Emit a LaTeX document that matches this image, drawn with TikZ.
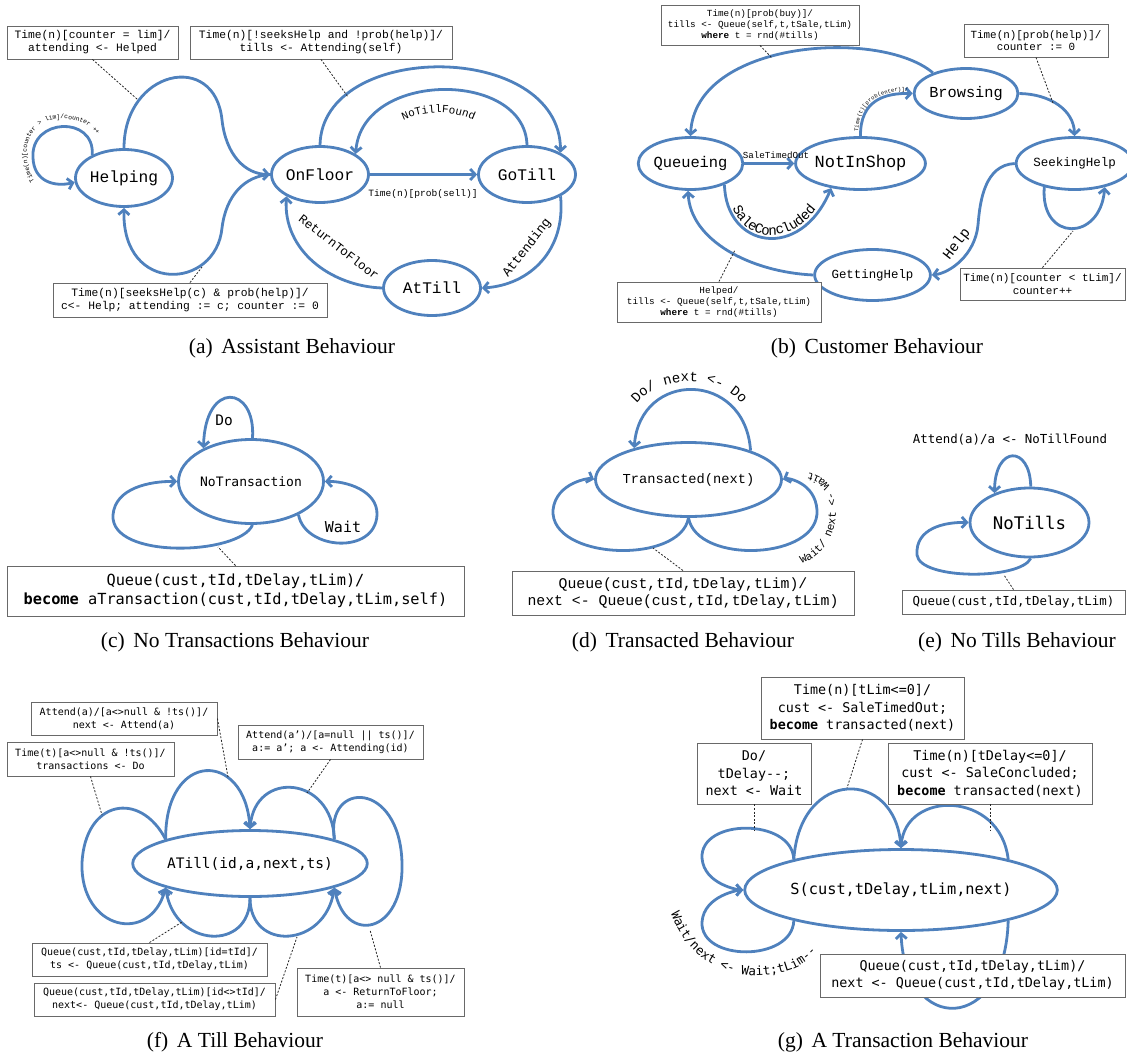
\documentclass[tikz,border=0pt]{standalone}
\usepackage{fontspec}
\setmainfont{Liberation Serif}
\newfontfamily\cour{Liberation Mono}
\newfontfamily\cons{DejaVu Sans Mono}
\usetikzlibrary{shapes.geometric,arrows.meta,decorations.text}
\definecolor{lblue}{RGB}{79,129,189}
\definecolor{bgray}{RGB}{105,105,105}
\newcommand\myfs[2]{\fontsize{#1}{#2}\selectfont}
\begin{document}
\begin{tikzpicture}[x=1pt,y=-1pt,
  st/.style={ellipse, draw=lblue, line width=2.8pt, inner sep=0pt, fill=white},
  tr/.style={draw=lblue, line width=2.8pt, -{Straight Barb[length=5pt,width=11pt]}},
  ln/.style={draw=lblue, line width=2.8pt},
  note/.style={draw=bgray, line width=0.9pt, fill=white, align=center, inner sep=0pt, text=black},
  dsh/.style={draw=black!85, line width=0.8pt, dash pattern=on 2pt off 1.6pt},
  captxt/.style={font=\myfs{21.5}{25}}]
\useasboundingbox (0,0) rectangle (1127,1055);

%%%%%%%%%%%%%%%% (a)
\node[st, minimum width=97pt, minimum height=57pt, font=\cour\myfs{16.2}{19}] (helping) at (124,178) {Helping};
\node[st, minimum width=97pt, minimum height=56pt, font=\cour\myfs{16.2}{19}] (onfloor) at (320,174.5) {OnFloor};
\node[st, minimum width=97pt, minimum height=56pt, font=\cour\myfs{16.2}{19}] (gotill) at (527,174.5) {GoTill};
\node[st, minimum width=97pt, minimum height=55pt, font=\cour\myfs{16.2}{19}] (attill) at (432,288) {AtTill};

\draw[tr] (helping.144) .. controls (95,115) and (30,118) .. (33,158) .. controls (34,182) and (55,187) .. (helping.185);
\path[decorate, decoration={text along path, text align=center, text={|\cour\myfs{6.3}{7}|Time(n)[counter > lim]/counter ++}}] (44,192) .. controls (18,170) and (20,122) .. (58,119) .. controls (85,117) and (100,133) .. (103,148);
\draw[tr] (helping.90) .. controls (124,70) and (215,50) .. (222,120) .. controls (226,155) and (245,174) .. (onfloor.180);
\draw[tr] (onfloor.180) .. controls (245,176) and (226,195) .. (222,228) .. controls (216,290) and (122,295) .. (helping.270);
\draw[tr] (onfloor.east) -- (gotill.west);
\node[font=\cour\myfs{9.6}{11}] (lsell) at (423,194) {Time(n)[prob(sell)]};
\draw[tr] (onfloor.90) .. controls (322,40) and (560,40) .. (gotill.33);
\draw[tr] (gotill.90) .. controls (525,70) and (362,70) .. (onfloor.30);
\path[decorate, decoration={text along path, text align=center, text={|\cour\myfs{11}{13}|NoTillFound}}] (385,132) .. controls (415,106) and (462,106) .. (492,132);
\draw[tr] (gotill.-33) .. controls (566,250) and (530,285) .. (attill.east);
\node[font=\cour\myfs{13}{15}, rotate=52] (latt) at (527,248) {Attending};
\draw[tr] (attill.west) .. controls (330,286) and (283,250) .. (onfloor.213);
\node[font=\cour\myfs{12.5}{15}, rotate=-38] (lret) at (339,247) {ReturnToFloor};

\node[note, minimum width=171pt, minimum height=33pt, font=\cour\myfs{11.3}{13}] (a1) at (92.5,42.5) {Time(n)[counter = lim]/\\attending <- Helped};
\node[note, minimum width=262pt, minimum height=33pt, font=\cour\myfs{11.3}{13}] (a2) at (321,42.5) {Time(n)[!seeksHelp and !prob(help)]/\\tills <- Attending(self)};
\node[note, minimum width=274pt, minimum height=34pt, font=\cour\myfs{11.3}{13}] (a3) at (190,300) {Time(n)[seeksHelp(c) \& prob(help)]/\\c<- Help; attending := c; counter := 0};
\coordinate (da1) at (137,99);
\coordinate (da2) at (348,97);
\coordinate (da3) at (202,267);
\draw[dsh] (a1.south) -- (da1);
\draw[dsh] (a2.south) -- (da2);
\draw[dsh] (a3.north) -- (da3);
\node[captxt] (capa) at (292,348) {(a)\hspace{0.4em}Assistant Behaviour};

%%%%%%%%%%%%%%%% (b)
\node[st, minimum width=94pt, minimum height=52pt, font=\cour\myfs{15.4}{18}] (queueing) at (690.5,163.5) {Queueing};
\node[st, minimum width=94pt, minimum height=52pt, font=\cour\myfs{17}{20}] (notinshop) at (860.5,163.5) {NotInShop};
\node[st, minimum width=95pt, minimum height=50pt, font=\cour\myfs{15.3}{18}] (browsing) at (966,93.5) {Browsing};
\node[st, minimum width=94pt, minimum height=52pt, font=\cour\myfs{12.5}{15}] (seeking) at (1074.5,163.5) {SeekingHelp};
\node[st, minimum width=92pt, minimum height=51pt, font=\cour\myfs{12.4}{15}] (getting) at (872.5,275) {GettingHelp};

\draw[tr] (browsing.148) .. controls (880,28) and (695,40) .. (queueing.90);
\draw[tr] (queueing.east) -- (notinshop.west);
\node[font=\cour\myfs{9.2}{11}] (lsto) at (776,155) {SaleTimedOut};
\draw[tr] (queueing.-32) .. controls (726,248) and (800,262) .. (notinshop.220);
\path[decorate, decoration={text along path, text align=center, raise=3pt, text={|\cour\myfs{14}{16}|SaleConcluded}}] (queueing.-32) .. controls (726,248) and (800,262) .. (notinshop.220);
\draw[tr] (notinshop.90) .. controls (860,100) and (885,93) .. (browsing.180);
\path[decorate, decoration={text along path, text align=center, raise=2.5pt, text={|\cour\myfs{5.5}{7}|Time(t)[prob(enter)]/}}] (notinshop.90) .. controls (860,100) and (885,93) .. (browsing.180);
\draw[tr] (browsing.0) .. controls (1050,94) and (1074,110) .. (seeking.90);
\draw[tr] (seeking.180) .. controls (985,165) and (980,200) .. (978,225) .. controls (975,255) and (950,273) .. (getting.0);
\node[font=\cour\myfs{14.5}{17}, rotate=52] (lhelp) at (957,244) {Help};
\draw[tr] (seeking.218) .. controls (1040,242) and (1100,242) .. (seeking.-38);
\draw[tr] (getting.180) .. controls (750,272) and (690,240) .. (queueing.265);

\node[note, minimum width=198pt, minimum height=40pt, font=\cour\myfs{9.3}{10.6}] (b1) at (760,25) {Time(n)[prob(buy)]/\\tills <- Queue(self,t,tSale,tLim)\\\textbf{where} t = rnd(\#tills)};
\node[note, minimum width=144pt, minimum height=33pt, font=\cour\myfs{10.9}{12.5}] (b2) at (1036,40.5) {Time(n)[prob(help)]/\\counter := 0};
\node[note, minimum width=204pt, minimum height=40pt, font=\cour\myfs{9.3}{10.6}] (b3) at (719,302) {Helped/\\tills <- Queue(self,t,tSale,tLim)\\\textbf{where} t = rnd(\#tills)};
\node[note, minimum width=165pt, minimum height=32pt, font=\cour\myfs{11}{12.5}] (b4) at (1042.5,284) {Time(n)[counter < tLim]/\\counter++};
\coordinate (db1) at (772,58);
\coordinate (db2) at (1053,103);
\coordinate (db3) at (735,250);
\coordinate (db4) at (1073,231);
\draw[dsh] (b1.south) -- (db1);
\draw[dsh] (b2.south) -- (db2);
\draw[dsh] (b3.north) -- (db3);
\draw[dsh] (b4.north) -- (db4);
\node[captxt] (capb) at (877,348) {(b)\hspace{0.4em}Customer Behaviour};

%%%%%%%%%%%%%%%% (c)
\node[st, minimum width=145pt, minimum height=84pt, font=\cons\myfs{13}{15}] (notrans) at (251,481.5) {NoTransaction};
\draw[tr] (notrans.88) .. controls (256,385) and (205,380) .. (notrans.145);
\node[font=\cons\myfs{14.5}{17}] (ldo) at (224,420) {Do};
\draw[tr] (notrans.272) .. controls (240,555) and (110,560) .. (113,515) .. controls (115,488) and (150,481) .. (notrans.180);
\draw[tr] (notrans.-35) .. controls (305,550) and (375,555) .. (377,515) .. controls (378,490) and (345,481) .. (notrans.0);
\node[font=\cons\myfs{15}{17}] (lwait) at (343,527) {Wait};
\node[note, minimum width=457pt, minimum height=50pt, font=\cons\myfs{15.3}{19}] (c1) at (235.5,591) {Queue(cust,tId,tDelay,tLim)/\\\textbf{become} aTransaction(cust,tId,tDelay,tLim,self)};
\coordinate (dc1) at (218,547);
\draw[dsh] (c1.north) -- (dc1);
\node[captxt] (capc) at (235,642) {(c)\hspace{0.4em}No Transactions Behaviour};

%%%%%%%%%%%%%%%% (d)
\node[st, minimum width=155pt, minimum height=74pt, font=\cour\myfs{13.7}{16}] (trans) at (688.5,479.5) {Transacted(next)};
\draw[tr] (trans.25) .. controls (745,370) and (640,370) .. (trans.150);
\path[decorate, decoration={text along path, text align=center, text={|\cour\myfs{14}{16}|Do/ next <- Do}}] (628,422) .. controls (640,368) and (740,368) .. (750,422);
\draw[tr] (trans.270) .. controls (680,565) and (550,560) .. (553,510) .. controls (556,482) and (590,478) .. (trans.180);
\draw[tr] (trans.270) .. controls (697,565) and (820,560) .. (817,510) .. controls (815,482) and (787,478) .. (trans.0);
\path[decorate, decoration={text along path, text align=center, text={|\cour\myfs{11}{13}|Wait/ next <- Wait}}] (786,568) .. controls (826,562) and (840,530) .. (835,500) .. controls (831,480) and (818,472) .. (792,471);
\node[note, minimum width=342pt, minimum height=44pt, font=\cour\myfs{14.8}{17}] (d1) at (683,593) {Queue(cust,tId,tDelay,tLim)/\\next <- Queue(cust,tId,tDelay,tLim)};
\coordinate (dd1) at (653,548);
\draw[dsh] (d1.north) -- (dd1);
\node[captxt] (capd) at (683,642) {(d)\hspace{0.4em}Transacted Behaviour};

%%%%%%%%%%%%%%%% (e)
\node[st, minimum width=119pt, minimum height=69pt, font=\cons\myfs{17.4}{20}] (notills) at (1029.5,522.5) {NoTills};
\draw[tr] (notills.88) .. controls (1030,445) and (995,445) .. (notills.140);
\node[font=\cons\myfs{12.4}{15}] (lattend) at (1010,440) {Attend(a)/a <- NoTillFound};
\draw[tr] (notills.272) .. controls (1020,580) and (920,580) .. (917,555) .. controls (915,528) and (945,522) .. (notills.180);
\node[note, minimum width=223pt, minimum height=24pt, font=\cons\myfs{12.4}{15}] (e1) at (1013.5,602) {Queue(cust,tId,tDelay,tLim)};
\coordinate (de1) at (1004,575);
\draw[dsh] (e1.north) -- (de1);
\node[captxt] (cape) at (1017,642) {(e)\hspace{0.4em}No Tills Behaviour};

%%%%%%%%%%%%%%%% (f)
\node[st, minimum width=225pt, minimum height=66pt, font=\cons\myfs{14.5}{17}] (atill) at (250,863.5) {ATill(id,a,next,ts)};
\draw[tr] (atill.164) .. controls (140,790) and (85,800) .. (82,863) .. controls (80,930) and (150,945) .. (atill.196);
\draw[tr] (atill.164) .. controls (165,750) and (245,750) .. (atill.90);
\draw[tr] (atill.16) .. controls (332,775) and (255,770) .. (atill.90);
\draw[tr] (atill.16) .. controls (325,780) and (400,780) .. (402,863) .. controls (404,935) and (345,945) .. (atill.-16);
\draw[tr] (atill.270) .. controls (250,952) and (175,948) .. (atill.196);
\draw[tr] (atill.270) .. controls (250,952) and (325,948) .. (atill.-16);
\node[note, minimum width=186pt, minimum height=33pt, font=\cons\myfs{10}{13}] (fA) at (124,718.5) {Attend(a)/[a<>null \& !ts()]/\\next <- Attend(a)};
\node[note, minimum width=167pt, minimum height=34pt, font=\cons\myfs{10}{13}] (fB) at (90.5,759) {Time(t)[a<>null \& !ts()]/\\transactions <- Do};
\node[note, minimum width=185pt, minimum height=34pt, font=\cons\myfs{10}{13}] (fC) at (330.5,742) {Attend(a’)/[a=null || ts()]/\\a:= a’; a <- Attending(id)};
\node[note, minimum width=235pt, minimum height=33pt, font=\cons\myfs{10}{13}] (fD) at (149.5,959.5) {Queue(cust,tId,tDelay,tLim)[id=tId]/\\ts <- Queue(cust,tId,tDelay,tLim)};
\node[note, minimum width=241pt, minimum height=33pt, font=\cons\myfs{10}{13}] (fE) at (154.5,999.5) {Queue(cust,tId,tDelay,tLim)[id<>tId]/\\next<- Queue(cust,tId,tDelay,tLim)};
\node[note, minimum width=167pt, minimum height=48pt, font=\cons\myfs{10}{13}] (fF) at (380.5,992) {Time(t)[a<> null \& ts()]/\\a <- ReturnToFloor;\\a:= null};
\coordinate (dfA) at (228,777);
\coordinate (dfB) at (102,815);
\coordinate (dfC) at (307,793);
\coordinate (dfD) at (182,922);
\coordinate (dfE) at (297,937);
\coordinate (dfF) at (370,930);
\draw[dsh] (fA.east) -- (dfA);
\draw[dsh] (fB.south) -- (dfB);
\draw[dsh] (fC.south) -- (dfC);
\draw[dsh] (fD.north) -- (dfD);
\draw[dsh] (fE.east) -- (dfE);
\draw[dsh] (fF.north) -- (dfF);
\node[captxt] (capf) at (235,1042) {(f)\hspace{0.4em}A Till Behaviour};

%%%%%%%%%%%%%%%% (g)
\node[st, minimum width=281pt, minimum height=81pt, font=\cons\myfs{15.3}{18}] (sg) at (901,890) {S(cust,tDelay,tLim,next)};
\draw[tr] (sg.164) .. controls (792,818) and (700,818) .. (702,858) .. controls (704,885) and (740,890) .. (sg.180);
\draw[tr] (sg.196) .. controls (792,962) and (700,962) .. (702,922) .. controls (704,895) and (740,890) .. (sg.180);
\path[decorate, decoration={text along path, text align=center, text={|\cons\myfs{12.5}{15}|Wait/next <- Wait;tLim--}}] (668,903) .. controls (680,955) and (730,990) .. (790,970) .. controls (805,965) and (815,955) .. (823,943);
\draw[tr] (sg.164) .. controls (800,768) and (895,768) .. (sg.90);
\draw[tr] (sg.16) .. controls (1000,790) and (905,790) .. (sg.90);
\draw[tr] (sg.-16) .. controls (1005,1035) and (905,1035) .. (sg.270);
\node[note, minimum width=114pt, minimum height=61pt, font=\cons\myfs{13.4}{17.5}] (gDo) at (754,773.5) {Do/\\tDelay-{}-;\\next <- Wait};
\node[note, minimum width=203pt, minimum height=62pt, font=\cons\myfs{13.4}{17.5}] (gTO) at (862.5,708) {Time(n)[tLim<=0]/\\cust <- SaleTimedOut;\\\textbf{become} transacted(next)};
\node[note, minimum width=204pt, minimum height=61pt, font=\cons\myfs{13.4}{17.5}] (gSC) at (990,773.5) {Time(n)[tDelay<=0]/\\cust <- SaleConcluded;\\\textbf{become} transacted(next)};
\node[note, minimum width=305pt, minimum height=43pt, font=\cons\myfs{13.4}{17.5}] (gQ) at (972.5,975.5) {Queue(cust,tId,tDelay,tLim)/\\next <- Queue(cust,tId,tDelay,tLim)};
\coordinate (dgDo) at (754,830);
\coordinate (dgTO) at (847,788);
\coordinate (dgSC) at (990,830);
\draw[dsh] (gDo.south) -- (dgDo);
\draw[dsh] (gTO.south) -- (dgTO);
\draw[dsh] (gSC.south) -- (dgSC);
\node[captxt] (capg) at (903,1042) {(g)\hspace{0.4em}A Transaction Behaviour};
\end{tikzpicture}
\end{document}
